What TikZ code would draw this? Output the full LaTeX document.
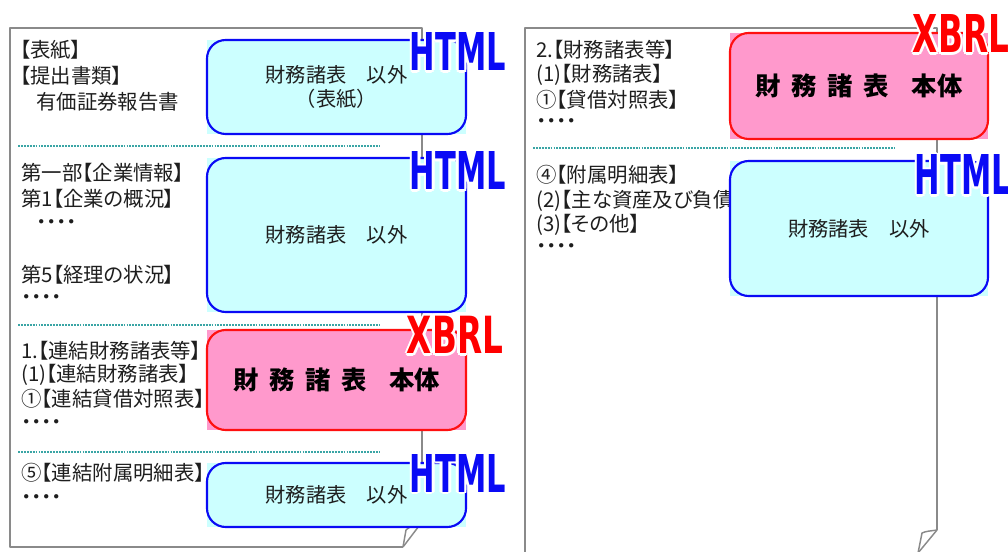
\documentclass[tikz,border=0pt]{standalone}
\usepackage{fontspec}
\setmainfont{Noto Sans CJK JP}[RawFeature={+palt}]
\newfontfamily\jpbox{Noto Sans CJK JP}
\newfontfamily\lblfont{DejaVu Sans}
\definecolor{cyanfill}{HTML}{CCFFFF}
\definecolor{pinkfill}{HTML}{FF99CC}
\definecolor{boxblue}{HTML}{0A0AF5}
\definecolor{boxred}{HTML}{FF1010}
\definecolor{pagegray}{HTML}{8A8A8A}
\definecolor{septeal}{HTML}{3AA5A5}
\definecolor{txtcol}{HTML}{1E1E1E}
\newcommand\mkbox[7]{%
  \fill[#2fill] (#3,#4) rectangle (#5,#6);
  \node[#2box, minimum width={(#5-#3)*0.75pt}, minimum height={(#6-#4)*0.75pt}]
    (#1) at ({(#3+#5)/2},{(#4+#6)/2}) {#7};}
\newcommand\mklbl[5]{%
  \foreach \dx/\dy in {2.6/0,-2.6/0,0/2.6,0/-2.6,1.9/1.9,-1.9/1.9,1.9/-1.9,-1.9/-1.9}
    \node[lblsty,text=white] at (#2+\dx,#3+\dy) {#5};
  \node[lblsty,text=#4] (#1) at (#2,#3) {#5};}
\begin{document}
\begin{tikzpicture}[x=0.75pt,y=-0.75pt,
  pagesty/.style={draw=pagegray,line width=1.1pt,line join=round},
  sep/.style={draw=septeal,line width=1.5pt,dash pattern=on 1.4pt off 0.8pt},
  txt/.style={anchor=west,inner sep=0pt,text=txtcol,font=\fontsize{15.3pt}{18pt}\selectfont},
  htmlfill/.style={fill=cyanfill},
  xbrlfill/.style={fill=pinkfill},
  htmlbox/.style={draw=boxblue,line width=1.6pt,rounded corners=14pt,inner sep=0pt,align=center,text=txtcol,font=\jpbox\fontsize{15.2pt}{17.5pt}\selectfont},
  xbrlbox/.style={draw=boxred,line width=1.6pt,rounded corners=14pt,inner sep=0pt,align=center,text=black,font=\jpbox\bfseries\fontsize{19pt}{22pt}\selectfont},
  lblsty/.style={inner sep=0pt,font=\lblfont\bfseries}
]
\useasboundingbox (0,0) rectangle (1008,552);
% pages
\draw[pagesty] (422,522) -- (422,28) -- (10,28) -- (10,547) -- (403,547);
\draw[pagesty] (422,522) -- (403,547);
\draw[pagesty] (422,522) .. controls (414,525) and (409,527) .. (406,530) -- (403,547);
\draw[pagesty] (937,530) -- (937,28) -- (525,28) -- (525,560);
\draw[pagesty] (937,530) -- (918,553);
\draw[pagesty] (937,530) .. controls (931,531) and (926,531) .. (922,533) -- (918,553);
% separators
\coordinate (s1a) at (18,146); \coordinate (s1b) at (380,146);
\coordinate (s2a) at (18,325); \coordinate (s2b) at (380,325);
\coordinate (s3a) at (18,452); \coordinate (s3b) at (380,452);
\coordinate (s4a) at (533,148); \coordinate (s4b) at (895,148);
\draw[sep] (s1a) -- (s1b);
\draw[sep] (s2a) -- (s2b);
\draw[sep] (s3a) -- (s3b);
\draw[sep] (s4a) -- (s4b);
% left texts
\node[txt] (l1) at (20,50) {【表紙】};
\node[txt] (l2) at (20,76) {【提出書類】};
\node[txt] (l3) at (36,102) {有価証券報告書};
\node[txt] (l4) at (21,173) {第一部【企業情報】};
\node[txt] (l5) at (21,199) {第1【企業の概況】};
\node[txt] (l6) at (36,225) {・・・・};
\node[txt] (l7) at (21,275) {第5【経理の状況】};
\node[txt] (l8) at (21,300) {・・・・};
\node[txt] (l9) at (21,351) {1.【連結財務諸表等】};
\node[txt] (l10) at (21,375) {(1)【連結財務諸表】};
\node[txt] (l11) at (21,399) {①【連結貸借対照表】};
\node[txt] (l12) at (21,425) {・・・・};
\node[txt] (l13) at (21,473) {⑤【連結附属明細表】};
\node[txt] (l14) at (21,500) {・・・・};
% right texts
\node[txt] (r1) at (536,50) {2.【財務諸表等】};
\node[txt] (r2) at (536,75) {(1)【財務諸表】};
\node[txt] (r3) at (536,100) {①【貸借対照表】};
\node[txt] (r4) at (536,124) {・・・・};
\node[txt] (r5) at (536,175) {④【附属明細表】};
\node[txt] (r6) at (536,201) {(2)【主な資産及び負債の状況】};
\node[txt] (r7) at (536,225) {(3)【その他】};
\node[txt] (r8) at (536,249) {・・・・};
% boxes
\mkbox{b1}{html}{207}{40}{466}{134}{財務諸表　以外\\（表紙）}
\mkbox{b2}{html}{207}{158}{466}{312}{財務諸表　以外}
\mkbox{b3}{xbrl}{207}{330}{466}{430}{財\hspace{0.42em}務\hspace{0.42em}諸\hspace{0.42em}表\hspace{0.9em}本体}
\mkbox{b4}{html}{207}{463}{466}{527}{財務諸表　以外}
\mkbox{b5}{xbrl}{730}{33}{988}{139}{財\hspace{0.42em}務\hspace{0.42em}諸\hspace{0.42em}表\hspace{0.9em}本体}
\mkbox{b6}{html}{730}{161}{988}{296}{財務諸表　以外}
% labels
\mklbl{h1}{458}{52}{boxblue}{\resizebox{72pt}{28.5pt}{HTML}}
\mklbl{h2}{458}{171}{boxblue}{\resizebox{72pt}{28.5pt}{HTML}}
\mklbl{x1}{455}{335}{red}{\resizebox{72pt}{28pt}{XBRL}}
\mklbl{h3}{458}{473}{boxblue}{\resizebox{72pt}{28.5pt}{HTML}}
\mklbl{x2}{961}{34}{red}{\resizebox{72pt}{28.5pt}{XBRL}}
\mklbl{h4}{963}{175}{boxblue}{\resizebox{72pt}{30pt}{HTML}}
\end{tikzpicture}
\end{document}
